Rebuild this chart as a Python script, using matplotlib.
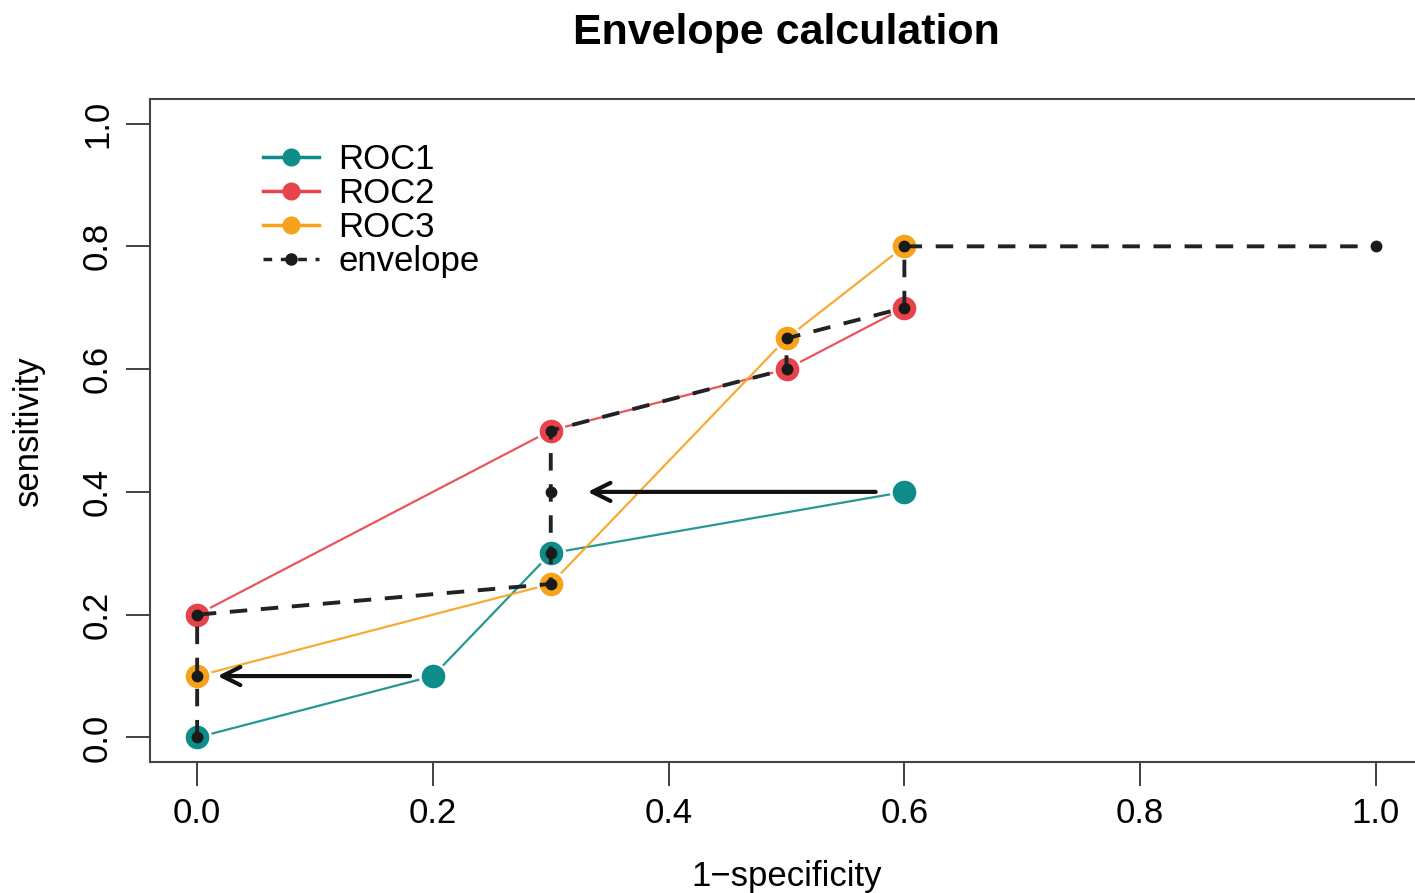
import matplotlib
matplotlib.use("Agg")
import matplotlib.pyplot as plt
from matplotlib.lines import Line2D

plt.rcParams['font.family'] = ['Liberation Sans', 'DejaVu Sans']

# Data
roc1_x = [0.0, 0.2, 0.3, 0.6]
roc1_y = [0.0, 0.1, 0.3, 0.4]
roc2_x = [0.0, 0.3, 0.5, 0.6]
roc2_y = [0.2, 0.5, 0.6, 0.7]
roc3_x = [0.0, 0.3, 0.5, 0.6]
roc3_y = [0.1, 0.25, 0.65, 0.8]
env_x = [0.0, 0.0, 0.0, 0.3, 0.3, 0.3, 0.3, 0.5, 0.5, 0.6, 0.6, 1.0]
env_y = [0.0, 0.1, 0.2, 0.25, 0.3, 0.4, 0.5, 0.6, 0.65, 0.7, 0.8, 0.8]
arrows = [((0.578, 0.4), (0.329, 0.4)), ((0.183, 0.1), (0.015, 0.1))]
ticks = [0.0, 0.2, 0.4, 0.6, 0.8, 1.0]
tick_labels = ["0.0", "0.2", "0.4", "0.6", "0.8", "1.0"]
series_names = ["ROC1", "ROC2", "ROC3", "envelope"]

c1 = "#0E8C8A"
c2 = "#E8424A"
c3 = "#F7A21B"

fig = plt.figure(figsize=(14.15, 8.93), dpi=100)
ax = fig.add_axes([150/1415, (893-762)/893, (1423-150)/1415, (762-99)/893])
ax.set_xlim(-0.04, 1.04)
ax.set_ylim(-0.04, 1.04)

for xs, ys, c in [(roc1_x, roc1_y, c1), (roc2_x, roc2_y, c2), (roc3_x, roc3_y, c3)]:
    ax.plot(xs, ys, color=c, lw=1.6, alpha=0.9, zorder=2)
    ax.plot(xs, ys, ls='none', marker='o', ms=19, mfc=c, mec='white', mew=2, zorder=3)

ax.plot(env_x, env_y, color='#222222', lw=2.8, ls=(0, (4.5, 3.5)), zorder=4)
ax.plot(env_x, env_y, ls='none', marker='o', ms=7.5, mfc='#1a1a1a', mec='#1a1a1a', zorder=5)

for (x0, y0), (x1, y1) in arrows:
    ax.annotate("", xy=(x1, y1), xytext=(x0, y0),
                arrowprops=dict(arrowstyle='->,head_length=1.3,head_width=0.65', color='#111111', lw=3),
                zorder=6)

ax.set_xticks(ticks)
ax.set_xticklabels(tick_labels)
ax.set_yticks(ticks)
ax.set_yticklabels(tick_labels, rotation=90, va='center')
ax.tick_params(axis='both', labelsize=25, length=17, width=1.3, color='#333333', pad=8)
ax.tick_params(axis='y', pad=9)
for s in ax.spines.values():
    s.set_color('#444444')
    s.set_linewidth(1.5)

ax.set_xlabel("1\u2212specificity", fontsize=25, labelpad=22)
ax.set_ylabel("sensitivity", fontsize=25, labelpad=26)
fig.text(786/1415, 1 - 33/893, "Envelope calculation", fontsize=31, fontweight='bold',
         ha='center', va='center')

handles = [
    Line2D([], [], color=c1, lw=2.5, marker='o', ms=12, mfc=c1, mec=c1),
    Line2D([], [], color=c2, lw=2.5, marker='o', ms=12, mfc=c2, mec=c2),
    Line2D([], [], color=c3, lw=2.5, marker='o', ms=12, mfc=c3, mec=c3),
    Line2D([], [], color='#222222', lw=2.5, ls=(0, (2.5, 2.5)), marker='o', ms=8, mfc='#1a1a1a', mec='#1a1a1a'),
]
ax.legend(handles, series_names, loc='upper left', bbox_to_anchor=(0.07, 0.97), frameon=False,
          fontsize=25, handlelength=1.6, handletextpad=0.55, labelspacing=0.03, borderpad=0.2)

fig.savefig("out.png", dpi=100)
